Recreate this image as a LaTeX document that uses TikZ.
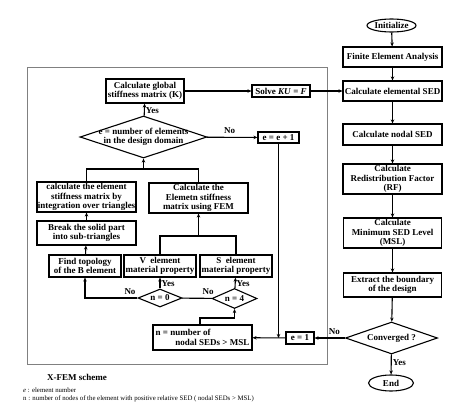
\documentclass[tikz,border=0pt]{standalone}
\usepackage{fontspec}
\setmainfont{Liberation Serif}
\usetikzlibrary{shapes.geometric,arrows.meta}
\begin{document}
\begin{tikzpicture}[x=1pt,y=-1pt,
  every node/.style={font=\fontsize{9}{9.6}\selectfont\bfseries},
  bx/.style={draw,line width=1.1pt,inner sep=0pt,align=center},
  dia/.style={draw,line width=1.1pt,diamond,inner sep=0pt},
  ell/.style={draw,line width=1.1pt,ellipse,inner sep=0pt},
  arr/.style={line width=1.1pt,-{Stealth[length=4pt,width=3.5pt]}},
  ln/.style={line width=1.1pt},
  lab/.style={inner sep=1pt},
  foot/.style={font=\fontsize{6.8}{7}\selectfont,anchor=west,inner sep=0pt}]
\useasboundingbox (0,0) rectangle (474,415);
% frame
\node[draw=gray,line width=0.8pt,minimum width=300pt,minimum height=297pt,inner sep=0pt] (frame) at (177,215.5) {};
% right column
\node[ell,minimum width=49pt,minimum height=13pt] (init) at (391.5,25.5) {Initialize};
\node[bx,minimum width=99pt,minimum height=20pt] (fea) at (392.5,57) {Finite Element Analysis};
\node[bx,minimum width=99pt,minimum height=20pt] (esed) at (392.5,91) {Calculate elemental SED};
\node[bx,minimum width=99pt,minimum height=21pt] (nsed) at (392.5,134.5) {Calculate nodal SED};
\node[bx,minimum width=99pt,minimum height=30pt] (rf) at (392.5,179) {Calculate\\Redistribution Factor\\(RF)};
\node[bx,minimum width=98pt,minimum height=30pt] (msl) at (392.5,233) {Calculate\\Minimum SED Level\\(MSL)};
\node[bx,minimum width=98pt,minimum height=24pt] (ext) at (392.5,285) {Extract the boundary\\of the design};
\node[dia,minimum width=92pt,minimum height=32pt,label={center:Converged ?}] (conv) at (391.5,338) {};
\node[ell,minimum width=45pt,minimum height=16pt] (fin) at (391,383) {End};
% inner
\node[bx,minimum width=78pt,minimum height=24pt] (gk) at (145,91) {Calculate global\\stiffness matrix (K)};
\node[bx,minimum width=58pt,minimum height=12pt] (solve) at (281,91) {Solve \textit{KU} = \textit{F}};
\node[dia,minimum width=127pt,minimum height=42pt,label={[align=center]center:e = number of elements\\in the design domain}] (d1) at (143.5,137) {};
\node[bx,minimum width=41pt,minimum height=11pt] (eplus) at (278.5,137.5) {e = e + 1};
\node[bx,minimum width=28pt,minimum height=12pt] (eone) at (300,338) {e = 1};
\node[bx,minimum width=99pt,minimum height=25pt,align=left] (nbox) at (202.5,337.5) {n = number of\\\hspace{2.2em}nodal SEDs > MSL};
\node[bx,minimum width=99pt,minimum height=30pt] (fs1) at (86.5,197) {calculate the element\\stiffness matrix by\\integration over triangles};
\node[bx,minimum width=99pt,minimum height=30pt] (fem) at (198.5,198) {Calculate the\\Elemetn stiffness\\matrix using FEM};
\node[bx,minimum width=99pt,minimum height=24pt] (brk) at (86.5,233) {Break the solid part\\into sub-triangles};
\node[bx,minimum width=72pt,minimum height=22pt] (topo) at (85,266) {Find topology\\of the B element};
\node[bx,minimum width=72pt,minimum height=22pt] (vel) at (160,266) {V\enspace element\\material property};
\node[bx,minimum width=72pt,minimum height=22pt] (sel) at (236,266) {S\enspace element\\material property};
\node[dia,minimum width=44pt,minimum height=18pt,label={center:n = 0}] (dn0) at (160,298) {};
\node[dia,minimum width=45pt,minimum height=20pt,label={center:n = 4}] (dn4) at (234.5,298.5) {};
% right column connectors
\draw[arr] (init) -- (fea);
\draw[arr] (fea) -- (esed);
\draw[arr] (esed) -- (nsed);
\draw[arr] (nsed) -- (rf);
\draw[arr] (rf) -- (msl);
\draw[arr] (msl) -- (ext);
\draw[arr] (ext) -- (conv);
\draw[arr] (conv) -- node[lab,right,pos=0.4]{Yes} (fin);
\draw[arr] (conv) -- node[lab,above,pos=0.35,yshift=2pt]{No} (eone);
% inner connectors
\draw[arr] (gk) -- (solve);
\draw[arr] (solve) -- (esed);
\draw[arr] (d1) -- node[lab,right,pos=0.45]{Yes} (gk);
\draw[arr] (d1) -- node[lab,above,pos=0.45,yshift=2pt]{No} (eplus);
\coordinate (j1) at (eplus.south |- eone.west);
\draw[arr] (eplus) -- (j1);
\draw[arr] (eone) -- (nbox);
\coordinate (j2) at (200,318);
\draw[arr] ([xshift=-2.5pt]nbox.north) -- (j2) -| (dn4.south);
\draw[arr] (dn4) -- node[lab,right,pos=0.4]{Yes} (sel);
\draw[ln] (dn4) -- (dn0);
\node[lab] (no4) at (208,292) {No};
\draw[arr] (dn0) -- node[lab,right,pos=0.4]{Yes} (vel);
\draw[arr] (dn0.west) -| (topo.south);
\node[lab] (no0) at (130,292) {No};
\draw[arr] (topo) -- (brk);
\draw[arr] (brk) -- (fs1);
\coordinate (b2) at (fem.south |- 0,236);
\draw[ln] (vel.north) |- (b2) -| (sel.north);
\draw[arr] (b2) -- (fem);
\coordinate (b1) at (d1.south |- 0,169);
\draw[ln] (fs1.north) |- (b1) -| (fem.north);
\draw[arr] (b1) -- (d1);
% captions
\node (cap) at (77,377) {X-FEM scheme};
\node[foot] (f1) at (23,390) {\textit{e} : element number};
\node[foot] (f2) at (23,398.5) {n : number of nodes of the element with positive relative SED ( nodal SEDs > MSL)};
\end{tikzpicture}
\end{document}
